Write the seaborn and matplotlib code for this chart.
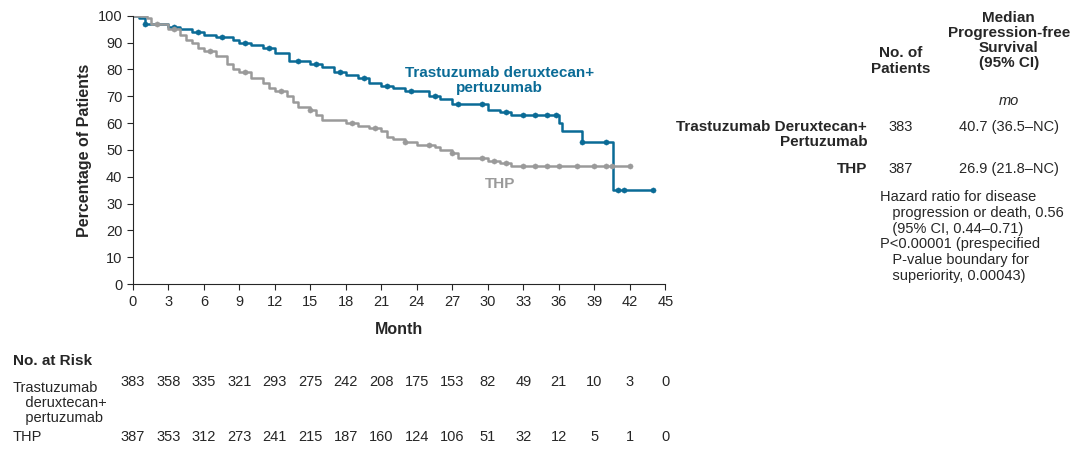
import matplotlib
matplotlib.use("Agg")
import matplotlib.pyplot as plt
import seaborn as sns
import numpy as np

sns.set_style("ticks")
plt.rcParams['font.family'] = ['Liberation Sans', 'DejaVu Sans']

BLUE = '#0a6b96'
GREY = '#9a9a9a'

# step curves (month, % event-free)
tdxd_t = [0, 0.5, 1, 3, 4, 5, 6, 7, 8.5, 9, 10, 11, 12, 13, 13.2, 15, 16, 17, 18, 19, 20, 21, 22, 23,
          25, 26, 27, 29, 30, 31, 32, 35.9, 36, 36.3, 37.9, 38, 40.3, 40.6, 44]
tdxd_s = [100, 99, 97, 96, 95, 94, 93, 92, 91, 90, 89, 88, 86, 86, 83, 82, 81, 79, 78, 77, 75, 74, 73, 72,
          70, 69, 67, 67, 65, 64, 63, 63, 60, 57, 57, 53, 53, 35, 35]
thp_t = [0, 1.2, 1.5, 3, 4, 4.5, 5, 5.5, 6, 7, 8, 8.5, 9, 10, 11, 11.5, 12, 13, 13.5, 14, 15, 15.5, 16, 17,
         18, 19, 20, 21, 21.5, 22, 23, 24, 25.5, 26, 27, 27.5, 29, 30, 31, 32, 42]
thp_s = [100, 99, 97, 95, 93, 91, 90, 88, 87, 85, 82, 80, 79, 77, 75, 73, 72, 70, 68, 66, 65, 63, 61, 61,
         60, 59, 58, 57, 55, 54, 53, 52, 51, 50, 49, 47, 47, 46, 45, 44, 44]

# censor times
tdxd_cens = [1, 3.5, 5.5, 7.5, 9.5, 11.5, 14, 15.5, 17.5, 19.5, 21.5, 23.5, 25.5, 27.5, 29.5, 31.5,
             33, 34, 35, 35.8, 38, 40, 41, 41.5, 44]
thp_cens = [2, 3.5, 6.5, 9.5, 12.5, 15, 18.5, 20.5, 23, 25, 27, 29.5, 30.5, 31.5, 33, 34, 35, 36, 37.5,
            39, 40, 40.5, 42]

months = [0, 3, 6, 9, 12, 15, 18, 21, 24, 27, 30, 33, 36, 39, 42, 45]
risk_tdxd = [383, 358, 335, 321, 293, 275, 242, 208, 175, 153, 82, 49, 21, 10, 3, 0]
risk_thp = [387, 353, 312, 273, 241, 215, 187, 160, 124, 106, 51, 32, 12, 5, 1, 0]


def step_at(ts, ss, x):
    i = np.searchsorted(ts, x, side='right') - 1
    return np.asarray(ss)[i]


fig = plt.figure(figsize=(10.8, 4.51), dpi=100)
ax = fig.add_axes([0.123, 0.37, 0.493, 0.595])

for ts, ss, cens, col in [(tdxd_t, tdxd_s, tdxd_cens, BLUE), (thp_t, thp_s, thp_cens, GREY)]:
    ax.step(ts, ss, where='post', color=col, lw=1.8)
    sns.scatterplot(x=cens, y=step_at(ts, ss, cens), color=col, s=14, edgecolor=col, ax=ax, zorder=3)

ax.set_xlim(0, 45)
ax.set_ylim(0, 100)
ax.set_xticks(months)
ax.set_yticks(range(0, 101, 10))
ax.tick_params(labelsize=10.5, length=4)
sns.despine(ax=ax)
ax.set_xlabel('Month', fontsize=11.5, fontweight='bold', labelpad=10)
ax.set_ylabel('Percentage of Patients', fontsize=11.5, fontweight='bold')

ax.text(31, 76, 'Trastuzumab deruxtecan+\npertuzumab', color=BLUE, fontsize=11,
        fontweight='bold', ha='center', va='center', linespacing=1.1)
ax.text(31, 37.5, 'THP', color=GREY, fontsize=11, fontweight='bold', ha='center', va='center')

# right table
fs = 10.5
fig.text(0.834, 0.865, 'No. of\nPatients', ha='center', va='center', fontsize=fs + 0.5, fontweight='bold')
fig.text(0.934, 0.91, 'Median\nProgression-free\nSurvival\n(95% CI)', ha='center', va='center',
         fontsize=fs + 0.5, fontweight='bold', linespacing=1.1)
fig.text(0.934, 0.775, 'mo', ha='center', va='center', fontsize=fs, style='italic')
fig.text(0.803, 0.735, 'Trastuzumab Deruxtecan+\nPertuzumab', ha='right', va='top', fontsize=fs + 0.5,
         fontweight='bold', linespacing=1.15)
fig.text(0.834, 0.718, '383', ha='center', va='center', fontsize=fs)
fig.text(0.934, 0.718, '40.7 (36.5\u2013NC)', ha='center', va='center', fontsize=fs)
fig.text(0.803, 0.625, 'THP', ha='right', va='center', fontsize=fs + 0.5, fontweight='bold')
fig.text(0.834, 0.625, '387', ha='center', va='center', fontsize=fs)
fig.text(0.934, 0.625, '26.9 (21.8\u2013NC)', ha='center', va='center', fontsize=fs)
fig.text(0.815, 0.578, 'Hazard ratio for disease\n   progression or death, 0.56\n   (95% CI, 0.44\u20130.71)\n'
         'P<0.00001 (prespecified\n   P-value boundary for\n   superiority, 0.00043)',
         ha='left', va='top', fontsize=fs, linespacing=1.15)

# risk table
xs = [0.123 + 0.493 * m / 45 for m in months]
fig.text(0.012, 0.2, 'No. at Risk', fontsize=fs + 0.5, fontweight='bold', va='center')
fig.text(0.012, 0.155, 'Trastuzumab\n   deruxtecan+\n   pertuzumab', fontsize=fs, va='top', linespacing=1.1)
fig.text(0.012, 0.031, 'THP', fontsize=fs, va='center')
for x, a, b in zip(xs, risk_tdxd, risk_thp):
    fig.text(x, 0.153, str(a), ha='center', va='center', fontsize=fs)
    fig.text(x, 0.031, str(b), ha='center', va='center', fontsize=fs)

fig.savefig('out.png', dpi=100)
